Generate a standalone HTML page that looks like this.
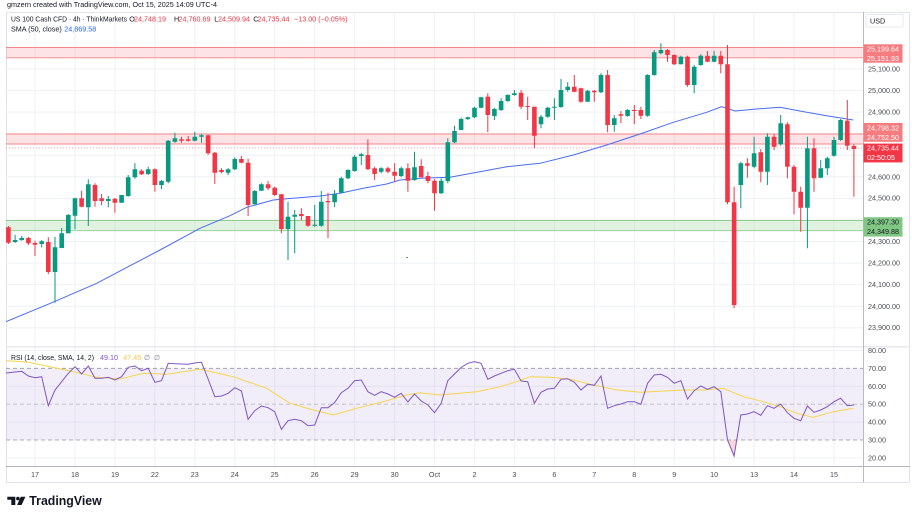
<!DOCTYPE html>
<html><head><meta charset="utf-8"><style>
html,body{margin:0;padding:0;background:#fff;}
svg{display:block;}
text{font-family:"Liberation Sans",Arial,sans-serif;}
</style></head><body>
<svg width="912" height="513" viewBox="0 0 912 513" xmlns="http://www.w3.org/2000/svg">
<defs>
<clipPath id="cp"><rect x="6" y="12" width="857.5" height="334.5"/></clipPath>
<clipPath id="cr"><rect x="6" y="347" width="857.5" height="119"/></clipPath>
<clipPath id="ca"><rect x="864" y="347" width="46" height="119"/></clipPath>
</defs>
<rect width="912" height="513" fill="#fff"/>
<text x="7" y="4.6" dominant-baseline="central" font-size="7.2" fill="#131722" textLength="210" lengthAdjust="spacingAndGlyphs">gmzern created with TradingView.com, Oct 15, 2025 14:09 UTC-4</text>
<rect x="6.5" y="12.5" width="903" height="470" fill="#fff" stroke="#e0e3eb" stroke-width="1"/>
<g stroke="#eef1f6" stroke-width="1">
<path d="M35 12V466M75 12V466M115 12V466M154.9 12V466M194.8 12V466M234.8 12V466M274.7 12V466M314.7 12V466M354.6 12V466M394.6 12V466M434.5 12V466M474.5 12V466M514.4 12V466M554.4 12V466M594.3 12V466M634.3 12V466M674.2 12V466M714.1 12V466M754.1 12V466M794 12V466M834 12V466"/>
<path d="M6 47.4H863M6 69H863M6 90.6H863M6 112.1H863M6 133.7H863M6 155.3H863M6 176.8H863M6 198.4H863M6 220H863M6 241.5H863M6 263.1H863M6 284.6H863M6 306.2H863M6 327.8H863"/>
<path d="M6 350.4H863M6 386.2H863M6 422.1H863M6 458H863"/>
</g>
<g clip-path="url(#cp)">
<rect x="6" y="47.5" width="857" height="10.3" fill="rgba(242,54,69,0.14)"/>
<path d="M6 47.5H863M6 57.8H863" stroke="#f5868b" stroke-width="0.9"/>
<rect x="6" y="134" width="857" height="10" fill="rgba(242,54,69,0.14)"/>
<path d="M6 134H863M6 144H863" stroke="#f5868b" stroke-width="0.9"/>
<path d="M6 148H863" stroke="#f5868b" stroke-width="0.8" stroke-dasharray="1 2"/>
<rect x="6" y="220.5" width="857" height="10.2" fill="rgba(76,175,80,0.17)"/>
<path d="M6 220.5H863M6 230.7H863" stroke="#8fce92" stroke-width="0.9"/>
<polyline fill="none" stroke="#4a6cf7" stroke-width="1" points="6,321.7 54.3,301.7 96.7,283.3 160,250 200,228.3 230,215.7 246.7,207.3 273.3,200 286.7,198.7 320,196 340,193.3 363.3,188.3 386.7,184 400,180 420,178.3 450,177.3 506.7,166.7 540,163.3 573.3,155 606.7,145 640,134 673.3,122.3 706.7,112.3 721.7,106.7 735,111 756.7,109 780,107.3 806.7,112.3 826.7,115.7 853.3,120"/>
<path fill="none" stroke="#089981" stroke-width="1" d="M15.1 235V243 M21.7 236V240.7 M41.7 240V247.3 M55 236.7V302.7 M61.7 228V248.3 M68.3 214V233.3 M75 197.7V229.3 M88.3 179.3V226 M108.3 196V207.3 M121.6 195V202.7 M128.2 175V196.7 M134.9 163.3V178.7 M148.2 166.7V175 M161.5 180V189 M168.2 140V183.3 M174.9 132.7V142.7 M194.8 131.7V141.3 M201.5 134V142.7 M228.1 168.3V175 M234.8 157.3V170 M254.7 190V204.3 M261.4 183.3V190.7 M288 201.7V260 M294.7 210V253.3 M314.7 205V226.7 M321.3 191V226.7 M334.6 190V207.3 M341.3 176.7V192.7 M348 169.3V179.3 M354.6 155V171.7 M361.3 152.7V165 M381.2 167.3V173.3 M401.2 166.7V177.3 M414.5 151.7V180.7 M441.2 178.3V194 M447.8 138.3V183.3 M454.5 125.7V143.3 M461.1 117.7V130 M467.8 116.7V120 M474.5 106.7V118.3 M481.1 96.7V108.3 M494.4 107.7V120 M501.1 98.3V111 M507.8 94.3V101.7 M514.4 90V95.7 M541 115V128.3 M547.7 106.7V117.7 M554.4 98.3V120 M561 79V107.7 M567.7 82.3V91.7 M587.6 90V101.7 M601 73.3V93.3 M614.3 115V131.7 M627.6 109V116.7 M647.6 74.3V116.7 M654.2 50V75.7 M660.9 43.3V54.3 M680.9 55.7V64.3 M694.2 65V93.3 M700.8 54.3V65.7 M714.1 51V62.3 M740.8 161.7V208.3 M754.1 136.7V168.3 M767.4 133.3V185 M780.7 115V145.7 M807.4 136.7V248.3 M820.7 160V178.3 M827.3 156.7V175 M834 136.7V156.7 M840.6 119V141"/>
<path fill="none" stroke="#089981" stroke-width="4.6" d="M15.1 240V242 M21.7 238V240 M41.7 241.3V244 M55 247.3V272 M61.7 233.3V248 M68.3 215V233.3 M75 198.3V215.7 M88.3 184.3V207.3 M108.3 199V201 M121.6 195V202.7 M128.2 177.3V196 M134.9 169.3V177.3 M148.2 169.3V174 M161.5 181V185 M168.2 140.7V181.7 M174.9 138.3V141.7 M194.8 136.7V140.7 M201.5 135.3V136.7 M228.1 169.3V172.7 M234.8 159V169.3 M254.7 191V204.3 M261.4 184.3V190.7 M288 216.7V229 M294.7 214.7V216.7 M314.7 224.7V225.7 M321.3 201.7V225.7 M334.6 194V202.3 M341.3 178.3V192.7 M348 170V178.3 M354.6 156.7V171 M361.3 154.3V156 M381.2 168.3V171.7 M401.2 168.3V176 M414.5 167.3V180 M441.2 180.7V193.3 M447.8 142.3V181 M454.5 131V142.3 M461.1 119V130 M467.8 117.3V119 M474.5 107.7V117.3 M481.1 97.3V107.7 M494.4 109V116 M501.1 101V110 M507.8 95V101 M514.4 93.3V95 M541 116.7V124.3 M547.7 107.7V116.7 M554.4 106.7V107.7 M561 90V107 M567.7 86.7V90 M587.6 90.7V101.7 M601 75V92.3 M614.3 118.3V125 M627.6 110V116 M647.6 75V115.7 M654.2 52.3V75 M660.9 50V53.3 M680.9 56.7V64.3 M694.2 66.7V85 M700.8 55.7V65 M714.1 55.7V61.7 M740.8 163.3V185 M754.1 153.3V166.7 M767.4 136.7V171.7 M780.7 123.3V144.3 M807.4 148.3V207.7 M820.7 168.3V177.7 M827.3 158.3V168.3 M834 140V155.7 M840.6 120V140"/>
<path fill="none" stroke="#f23645" stroke-width="1" d="M8.4 226V244 M28.4 236.7V245 M35 240.7V256 M48.3 237.3V274 M81.6 190.7V207.3 M95 183.3V206.7 M101.6 194V205.3 M114.9 198V212.7 M141.6 169.3V175 M154.9 168.3V191.7 M181.5 136.7V142.7 M188.2 136V141.7 M208.1 134.7V155 M214.8 152V184 M221.5 168.3V173.3 M241.4 156V163.3 M248.1 158.7V216 M268.1 181V190 M274.7 186.7V196 M281.4 194V233.3 M301.4 208.3V220 M308 216V226.7 M328 192.7V238.3 M367.9 139.3V170 M374.6 166.7V180 M387.9 166.7V173.3 M394.6 163.3V181.7 M407.9 163.3V191.7 M421.2 159.3V177.3 M427.9 171.7V183.3 M434.5 179.3V210.7 M487.8 93.3V132.3 M521.1 90V109 M527.7 96.7V120 M534.4 106.7V148.3 M574.3 75V92.3 M581 87.7V102.7 M594.3 90V101.7 M607.6 70V132.3 M620.9 111V123.3 M634.3 105V124.3 M640.9 106.7V119 M667.5 49V61.7 M674.2 54.3V65 M687.5 55.7V86.7 M707.5 51V62.3 M720.8 51V73.3 M727.5 45V204.3 M734.1 186.7V308.3 M747.4 158.3V177.7 M760.8 149V182.3 M774.1 134.3V150 M787.4 122.3V178.3 M794 165V214.3 M800.7 186.7V231.7 M814 138.3V191.7 M847.3 100V150 M853.9 144.3V196.7"/>
<path fill="none" stroke="#f23645" stroke-width="4.6" d="M8.4 227.3V242.7 M28.4 238V243.3 M35 243V244.7 M48.3 242V272 M81.6 198.3V206.7 M95 185V201 M101.6 198.3V201 M114.9 198.7V202.7 M141.6 170.7V174.3 M154.9 169.3V185 M181.5 139.3V140.7 M188.2 139.3V140.7 M208.1 135.3V153.3 M214.8 152.7V172.7 M221.5 170V172 M241.4 159V162.7 M248.1 162.7V205 M268.1 184.3V188.3 M274.7 187.7V195 M281.4 194.3V229 M301.4 214V216 M308 216V225.7 M328 201V202.3 M367.9 155V169.3 M374.6 168.3V174 M387.9 168.3V171.7 M394.6 171.7V175.7 M407.9 168.3V180.7 M421.2 166V177.3 M427.9 176V181 M434.5 180.7V193.3 M487.8 96.7V115 M521.1 92.7V106.7 M527.7 106V107 M534.4 106.7V135.7 M574.3 86.7V91.7 M581 88.3V101.7 M594.3 90.7V92.3 M607.6 75V125 M620.9 114.3V115.7 M634.3 110V111 M640.9 110V115.7 M667.5 50V55 M674.2 55V64.3 M687.5 56.7V85 M707.5 55.7V61.7 M720.8 55.7V64.3 M727.5 64.3V202.3 M734.1 202.3V305 M747.4 163.3V165.7 M760.8 152.3V171.7 M774.1 136.7V146.7 M787.4 124.3V166.7 M794 166.7V191.7 M800.7 191.7V207.7 M814 148.3V178.3 M847.3 120.7V145.7 M853.9 146V149"/>
<circle cx="407" cy="257.5" r="0.6" fill="#131722"/>
</g>
<text x="11" y="19" dominant-baseline="central" font-size="7.2" fill="#131722" textLength="116" lengthAdjust="spacingAndGlyphs">US 100 Cash CFD · 4h · ThinkMarkets</text>
<g font-size="7.2" dominant-baseline="central">
<text x="129.3" y="19" fill="#131722">O</text><text x="134" y="19" fill="#f23645">24,748.19</text>
<text x="174" y="19" fill="#131722">H</text><text x="178.5" y="19" fill="#f23645">24,760.69</text>
<text x="214.3" y="19" fill="#131722">L</text><text x="218" y="19" fill="#f23645">24,509.94</text>
<text x="253.3" y="19" fill="#131722">C</text><text x="257.5" y="19" fill="#f23645">24,735.44</text>
<text x="294" y="19" fill="#f23645">−13.00 (−0.05%)</text>
<text x="11" y="29" fill="#131722">SMA (50, close)</text>
<text x="64.3" y="29" fill="#2962ff">24,869.58</text>
</g>
<line x1="6" y1="346.8" x2="910" y2="346.8" stroke="#e0e3eb" stroke-width="1.2"/>
<g clip-path="url(#cr)">
<rect x="6" y="368.3" width="857" height="71.7" fill="rgba(126,87,194,0.1)"/>
<path d="M6 368.3H863M6 440H863" stroke="#9598a1" stroke-width="0.8" stroke-dasharray="4 3"/>
<path d="M6 404.2H863" stroke="#b8bac2" stroke-width="0.8" stroke-dasharray="4 3"/>
<polygon points="727.5,440 734.1,456 736.7,440" fill="rgba(242,54,69,0.2)"/>
<polyline fill="none" stroke="#f7d44c" stroke-width="1" points="6,360.7 26.7,362 50,366.7 73.3,371.7 96.7,377.3 120,379 143.3,373.3 166.7,374.3 200,369.3 233.3,376.7 266.7,388.3 290,403.3 313.3,410 333.3,415 356.7,408.3 383.3,401.7 406.7,395 420,392.7 440,395 460,393.3 476.7,391.7 500,386.7 516.7,381.7 530,376.7 550,377.3 570,379.3 593.3,385 616.7,390 640,392.3 683.3,390 703.3,390 723.3,388.3 743.3,396.7 763.3,401.7 780,406.7 796.7,413.3 813.3,417.3 833.3,411.7 853.3,408.3"/>
<polyline fill="none" stroke="#7e57c2" stroke-width="1" points="6,373 8.4,372.7 15.1,372 21.7,371.3 28.4,376 35,377.7 41.7,376.7 48.3,405.7 55,390 61.7,381.7 68.3,373.3 75,366.7 81.6,374 88.3,366 95,378.3 101.6,378.3 108.3,377.3 114.9,380 121.6,376.7 128.2,367.3 134.9,366 141.6,370.7 148.2,368.3 154.9,382.3 161.5,380.7 168.2,363.3 174.9,363.7 181.5,364 188.2,364.3 194.8,363 201.5,362.3 208.1,379 214.8,396.7 221.5,396 228.1,393.3 234.8,387.7 241.4,391 248.1,419.3 254.7,410.7 261.4,406 268.1,407.7 274.7,411.7 281.4,429.3 288,420.7 294.7,419.3 301.4,420.7 308,425.7 314.7,425 321.3,407.7 328,407.7 334.6,402.7 341.3,392.7 348,388.3 354.6,380.7 361.3,380 367.9,391.7 374.6,395.3 381.2,391.7 387.9,394 394.6,397.3 401.2,393.3 407.9,402 414.5,394 421.2,401 427.9,405 434.5,412.7 441.2,403.3 447.8,380.7 454.5,374 461.1,367.5 467.8,363.3 474.5,361.7 481.1,363.3 487.8,379.3 494.4,376 501.1,373.3 507.8,370.7 514.4,369.3 521.1,381 527.7,381.7 534.4,403.3 541,392.3 547.7,389 554.4,388.3 561,379.3 567.7,378.7 574.3,382.3 581,390 587.6,384.3 594.3,385.3 601,376 607.6,408.3 614.3,405.7 620.9,404 627.6,401.7 634.3,401.7 640.9,404.3 647.6,383.3 654.2,375 660.9,374.3 667.5,377.3 674.2,383.3 680.9,380.7 687.5,399 694.2,390.7 700.8,386 707.5,389.3 714.1,386.7 720.8,391.7 727.5,440 734.1,456 740.8,415 747.4,414 754.1,411.7 760.8,415.3 767.4,405.7 774.1,408.3 780.7,404 787.4,412.7 794,418.3 800.7,420.7 807.4,406 814,412.3 820.7,410 827.3,406.7 834,401.7 840.6,398.3 847.3,405.7 853.9,405"/>
</g>
<g font-size="7.2" dominant-baseline="central">
<text x="11" y="357.3" fill="#131722" textLength="83" lengthAdjust="spacingAndGlyphs">RSI (14, close, SMA, 14, 2)</text>
<text x="100" y="357.3" fill="#7e57c2">49.10</text>
<text x="123.3" y="357.3" fill="#f2c94c">47.45</text>
<text x="144" y="357.3" fill="#787b86">∅</text>
<text x="154" y="357.3" fill="#787b86">∅</text>
</g>
<line x1="6" y1="466.5" x2="910" y2="466.5" stroke="#b2b5be" stroke-width="0.9"/>
<line x1="863.5" y1="12" x2="863.5" y2="482.5" stroke="#b2b5be" stroke-width="0.9"/>
<g font-size="7.2" fill="#4a4d57" text-anchor="middle" dominant-baseline="central">
<text x="35" y="474.5">17</text><text x="75" y="474.5">18</text><text x="115" y="474.5">19</text><text x="154.9" y="474.5">22</text><text x="194.8" y="474.5">23</text><text x="234.8" y="474.5">24</text><text x="274.7" y="474.5">25</text><text x="314.7" y="474.5">26</text><text x="354.6" y="474.5">29</text><text x="394.6" y="474.5">30</text><text x="434.5" y="474.5">Oct</text><text x="474.5" y="474.5">2</text><text x="514.4" y="474.5">3</text><text x="554.4" y="474.5">6</text><text x="594.3" y="474.5">7</text><text x="634.3" y="474.5">8</text><text x="674.2" y="474.5">9</text><text x="714.1" y="474.5">10</text><text x="754.1" y="474.5">13</text><text x="794" y="474.5">14</text><text x="834" y="474.5">15</text>
</g>
<rect x="866" y="14.5" width="37" height="12.5" fill="#fff" stroke="#e0e3eb" stroke-width="0.8"/>
<text x="870" y="21" font-size="7.2" fill="#131722" dominant-baseline="central">USD</text>
<g font-size="7.2" fill="#4a4d57" dominant-baseline="central">
<text x="868" y="69">25,100.00</text>
<text x="868" y="90.6">25,000.00</text>
<text x="868" y="112.1">24,900.00</text>
<text x="868" y="176.8">24,600.00</text>
<text x="868" y="197.8">24,500.00</text>
<text x="868" y="241.6">24,300.00</text>
<text x="868" y="263">24,200.00</text>
<text x="868" y="284.5">24,100.00</text>
<text x="868" y="306.4">24,000.00</text>
<text x="868" y="327.7">23,900.00</text>
<g clip-path="url(#ca)">
<text x="868" y="350.5">80.00</text>
<text x="868" y="368.5">70.00</text>
<text x="868" y="386.3">60.00</text>
<text x="868" y="404.2">50.00</text>
<text x="868" y="422.1">40.00</text>
<text x="868" y="440">30.00</text>
<text x="868" y="458">20.00</text>
</g>
</g>
<rect x="863.5" y="44.3" width="39" height="18.4" fill="#f77c80"/>
<rect x="863.5" y="123" width="39" height="18.8" fill="#f77c80"/>
<rect x="863.5" y="143.6" width="39" height="18.8" fill="#f23645"/>
<rect x="863.5" y="217.2" width="39" height="19.4" fill="#81c784"/>
<g font-size="7.2" dominant-baseline="central">
<text x="867" y="49" fill="#fff">25,199.64</text>
<text x="867" y="58.5" fill="#fff">25,151.93</text>
<text x="867" y="127.8" fill="#fff">24,798.32</text>
<text x="867" y="137.5" fill="#fff">24,752.50</text>
<text x="867" y="148" fill="#fff">24,735.44</text>
<text x="867" y="157.6" fill="#fff">02:50:05</text>
<text x="867" y="221.8" fill="#131722">24,397.30</text>
<text x="867" y="231.6" fill="#131722">24,349.88</text>
</g>
<g fill="#131722">
<path d="M7.3 496.7H15.3V505H11.3V499.8H7.3Z"/>
<circle cx="17.9" cy="498.6" r="1.8"/>
<path d="M20.8 496.7H25.4L21.6 505H17.1Z"/>
<text x="29.3" y="501" font-size="12.5" font-weight="bold" dominant-baseline="central" textLength="72.4" lengthAdjust="spacingAndGlyphs">TradingView</text>
</g>
</svg>
</body></html>
